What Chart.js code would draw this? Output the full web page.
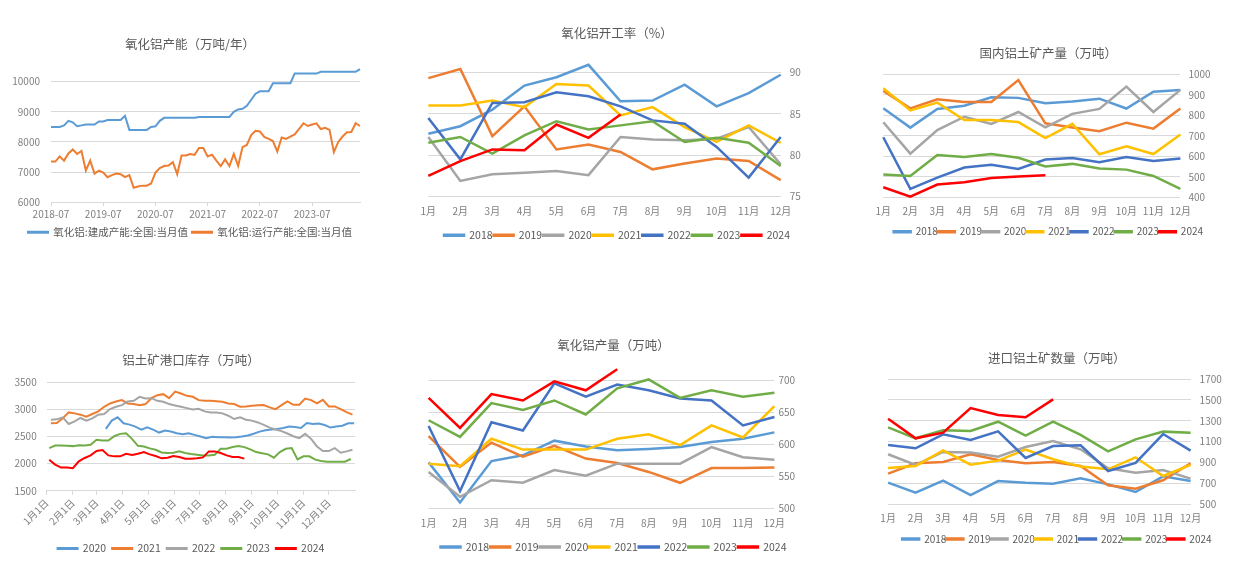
<!DOCTYPE html>
<html>
<head>
<meta charset="utf-8">
<script src="https://cdn.jsdelivr.net/npm/chart.js@4.4.1/dist/chart.umd.min.js"></script>
<style>
  body { margin: 0; background: #fff; width: 1247px; height: 564px; overflow: hidden; position: relative; }
  .box { position: absolute; }
</style>
</head>
<body>
<div class="box" style="left:0;top:20px;width:395px;height:235px"><canvas id="capacityChart"></canvas></div>
<div class="box" style="left:400px;top:0;width:430px;height:255px"><canvas id="rateChart"></canvas></div>
<div class="box" style="left:860px;top:20px;width:387px;height:235px"><canvas id="mineChart"></canvas></div>
<div class="box" style="left:0;top:335px;width:395px;height:232px"><canvas id="portChart"></canvas></div>
<div class="box" style="left:400px;top:325px;width:430px;height:239px"><canvas id="outputChart"></canvas></div>
<div class="box" style="left:860px;top:335px;width:387px;height:229px"><canvas id="importChart"></canvas></div>
<script>
Chart.defaults.font.family = "'Noto Sans CJK SC', 'Noto Sans', sans-serif";
Chart.defaults.color = '#7f7f7f';
Chart.defaults.animation = false;

const months = ['1月', '2月', '3月', '4月', '5月', '6月', '7月', '8月', '9月', '10月', '11月', '12月'];
const years = ['2018', '2019', '2020', '2021', '2022', '2023', '2024'];
const yearColors = ['#5B9BD5', '#ED7D31', '#A5A5A5', '#FFC000', '#4472C4', '#70AD47', '#FF0000'];

// 氧化铝产能, monthly from 2018-07
const capacityBuilt = [8500, 8500, 8500, 8550, 8700, 8650, 8520, 8550, 8580, 8580, 8580, 8680,
    8680, 8730, 8730, 8730, 8730, 8870, 8400, 8400, 8400, 8400, 8400, 8500,
    8520, 8700, 8800, 8800, 8800, 8800, 8800, 8800, 8800, 8800, 8830, 8830,
    8830, 8830, 8830, 8830, 8830, 8830, 9000, 9080, 9100, 9200, 9400, 9600,
    9680, 9680, 9680, 9950, 9950, 9950, 9950, 9950, 10270, 10270, 10270, 10270,
    10270, 10270, 10330, 10330, 10330, 10330, 10330, 10330, 10330, 10330, 10330, 10420];
const capacityRunning = [7350, 7350, 7520, 7380, 7620, 7750, 7600, 7700, 7050, 7380, 6950, 7050,
    6980, 6830, 6900, 6950, 6930, 6830, 6900, 6480, 6520, 6550, 6550, 6620,
    6980, 7130, 7200, 7220, 7330, 6930, 7550, 7550, 7600, 7570, 7800, 7800,
    7520, 7580, 7380, 7200, 7420, 7200, 7600, 7200, 7830, 7900, 8230, 8370,
    8350, 8170, 8100, 8030, 7680, 8150, 8100, 8180, 8250, 8430, 8620, 8530,
    8580, 8620, 8430, 8470, 8400, 7660, 8000, 8180, 8320, 8330, 8620, 8530];
const capacityMonths = [];
for (let i = 0; i < capacityBuilt.length; i++) {
    const m = 6 + i;
    capacityMonths.push(`${2018 + Math.floor(m / 12)}-${String(m % 12 + 1).padStart(2, '0')}`);
}

// 氧化铝开工率 (%)
const rate2018 = [82.6, 83.5, 85.5, 88.4, 89.4, 90.9, 86.5, 86.6, 88.5, 85.9, 87.5, 89.7];
const rate2019 = [89.3, 90.4, 82.3, 85.9, 80.7, 81.3, 80.4, 78.3, 79.0, 79.6, 79.3, 77.0];
const rate2020 = [82.2, 76.9, 77.7, 77.9, 78.1, 77.6, 82.2, 81.9, 81.8, 82.0, 83.4, 78.9];
const rate2021 = [86.0, 86.0, 86.6, 85.8, 88.6, 88.4, 84.8, 85.8, 83.4, 81.6, 83.6, 81.5];
const rate2022 = [84.5, 79.5, 86.3, 86.4, 87.6, 87.1, 85.9, 84.2, 83.8, 81.0, 77.3, 82.2];
const rate2023 = [81.5, 82.2, 80.2, 82.4, 84.1, 83.1, 83.6, 84.1, 81.6, 82.1, 81.5, 78.7];
const rate2024 = [77.5, 79.3, 80.7, 80.6, 83.7, 82.1, 84.9];

// 国内铝土矿产量
const mine2018 = [834, 740, 831, 847, 888, 885, 859, 867, 881, 833, 915, 924];
const mine2019 = [919, 834, 878, 865, 865, 972, 761, 741, 722, 764, 735, 833];
const mine2020 = [766, 613, 728, 793, 758, 816, 741, 807, 831, 940, 816, 924];
const mine2021 = [932, 824, 862, 777, 777, 767, 689, 758, 610, 649, 611, 706];
const mine2022 = [693, 441, 496, 545, 559, 538, 584, 592, 571, 597, 577, 589];
const mine2023 = [511, 504, 606, 597, 611, 593, 550, 563, 540, 535, 504, 441];
const mine2024 = [449, 403, 462, 473, 494, 501, 507];

// 铝土矿港口库存, weekly, x = day of year
const portMonthStarts = [1, 32, 60, 91, 121, 152, 182, 213, 244, 274, 305, 335];
const portMonthLabels = ['1月1日', '2月1日', '3月1日', '4月1日', '5月1日', '6月1日', '7月1日', '8月1日', '9月1日', '10月1日', '11月1日', '12月1日'];
const portYears = ['2020', '2021', '2022', '2023', '2024'];
const portColors = ['#5B9BD5', '#ED7D31', '#A5A5A5', '#70AD47', '#FF0000'];
const portStartDays = [71, 6, 6, 4, 4];
const port2020 = [2640, 2793, 2854, 2744, 2720, 2683, 2628, 2671, 2628, 2573, 2610, 2592, 2561, 2543, 2561, 2531, 2500, 2470, 2494, 2488, 2485, 2482, 2488, 2500, 2518, 2550, 2590, 2615, 2630, 2640, 2659, 2685, 2675, 2659, 2750, 2732, 2740, 2713, 2665, 2685, 2700, 2744, 2744];
const port2021 = [2744, 2750, 2835, 2945, 2927, 2903, 2866, 2915, 2964, 3049, 3110, 3146, 3171, 3110, 3098, 3079, 3098, 3207, 3262, 3281, 3207, 3329, 3293, 3250, 3232, 3171, 3159, 3159, 3150, 3140, 3110, 3098, 3049, 3055, 3067, 3075, 3079, 3037, 3006, 3079, 3146, 3085, 3085, 3201, 3171, 3110, 3177, 3055, 3055, 3006, 2951, 2903];
const port2022 = [2811, 2817, 2854, 2732, 2781, 2842, 2793, 2835, 2903, 2915, 3006, 3049, 3079, 3146, 3159, 3232, 3201, 3207, 3159, 3140, 3098, 3073, 3049, 3024, 3000, 3012, 2964, 2945, 2945, 2927, 2884, 2823, 2854, 2811, 2793, 2760, 2715, 2665, 2630, 2600, 2555, 2506, 2470, 2549, 2457, 2317, 2232, 2232, 2287, 2201, 2226, 2256];
const port2023 = [2287, 2335, 2335, 2329, 2323, 2341, 2335, 2348, 2439, 2427, 2427, 2506, 2549, 2561, 2457, 2329, 2317, 2281, 2256, 2207, 2195, 2201, 2226, 2195, 2177, 2165, 2152, 2152, 2165, 2274, 2274, 2305, 2323, 2305, 2262, 2213, 2190, 2171, 2110, 2213, 2274, 2287, 2079, 2134, 2134, 2073, 2049, 2037, 2037, 2037, 2037, 2085];
const port2024 = [2073, 1982, 1927, 1927, 1915, 2043, 2104, 2152, 2232, 2250, 2152, 2134, 2134, 2183, 2159, 2183, 2213, 2171, 2140, 2098, 2110, 2140, 2122, 2092, 2092, 2100, 2115, 2226, 2226, 2195, 2152, 2122, 2122, 2092];

// 氧化铝产量
const output2018 = [572, 509, 574, 583, 606, 597, 591, 593, 596, 604, 609, 619];
const output2019 = [613, 565, 603, 581, 598, 578, 571, 557, 540, 563, 563, 564];
const output2020 = [557, 518, 544, 540, 560, 551, 570, 570, 570, 596, 580, 576];
const output2021 = [570, 566, 609, 592, 592, 592, 609, 616, 599, 630, 611, 660];
const output2022 = [629, 527, 635, 622, 696, 675, 694, 685, 672, 669, 630, 643];
const output2023 = [638, 612, 665, 654, 669, 647, 688, 702, 673, 685, 675, 681];
const output2024 = [673, 626, 679, 669, 699, 685, 718];

// 进口铝土矿数量
const import2018 = [707, 612, 727, 589, 723, 707, 698, 749, 691, 618, 768, 723];
const import2019 = [794, 893, 905, 979, 924, 893, 905, 867, 682, 650, 730, 893];
const import2020 = [979, 877, 1001, 995, 956, 1049, 1106, 1027, 845, 803, 829, 746];
const import2021 = [848, 867, 1017, 880, 918, 1023, 931, 861, 835, 950, 771, 877];
const import2022 = [1068, 1036, 1170, 1116, 1199, 944, 1058, 1065, 819, 896, 1173, 1014];
const import2023 = [1237, 1132, 1208, 1202, 1291, 1157, 1291, 1164, 1007, 1122, 1196, 1186];
const import2024 = [1320, 1132, 1186, 1422, 1355, 1333, 1505];

const titleColor = '#595959';
const gridColor = '#d9d9d9';
const plain = v => String(v); // no thousands separator on ticks

// line dataset, later years drawn on top
const lineSet = (label, data, color, i, width = 2) => ({
    label, data,
    borderColor: color,
    backgroundColor: color,
    borderWidth: width,
    pointRadius: 0,
    tension: 0,
    clip: false,
    order: -i
});

const legendOpts = (font, box, pad) => ({
    position: 'bottom',
    labels: {
        boxWidth: box, boxHeight: 1, padding: pad, color: titleColor,
        font: { size: font },
        sort: (a, b) => a.datasetIndex - b.datasetIndex
    }
});

// unlabeled right axis, only used to shift the title/legend centre like the original
const spareAxis = (w) => ({
    position: 'right',
    ticks: { display: false },
    grid: { display: false },
    border: { display: false },
    afterFit: s => { s.width = w; }
});

// monthly year-over-year chart with right axis
const monthlyChart = (id, title, series, y, L) => new Chart(document.getElementById(id), {
    type: 'line',
    data: {
        labels: months,
        datasets: series.map((d, i) => lineSet(years[i], d, yearColors[i], i, 2.5))
    },
    options: {
        responsive: true,
        maintainAspectRatio: false,
        layout: { padding: L.pad },
        plugins: {
            title: { display: true, text: title, color: titleColor, font: { size: 12.5, weight: 'normal' }, padding: L.titlePad },
            legend: legendOpts(L.legendFont, L.box, L.legendPad),
            tooltip: { enabled: false }
        },
        scales: {
            x: {
                grid: { display: false, drawTicks: false },
                border: { display: false },
                ticks: { padding: L.tickPad, font: { size: 10 }, maxRotation: 0, autoSkip: false },
                afterFit: s => { s.height = L.xHeight; }
            },
            y: {
                position: 'right',
                min: y.min, max: y.max,
                ticks: { stepSize: y.step, padding: L.yPad, font: { size: 10 }, callback: plain },
                grid: { color: gridColor, drawTicks: false },
                border: { display: false },
                afterFit: s => { s.width = L.yWidth; }
            }
        }
    }
});

// 1. 氧化铝产能
new Chart(document.getElementById('capacityChart'), {
    type: 'line',
    data: {
        labels: capacityMonths,
        datasets: [
            lineSet('氧化铝:建成产能:全国:当月值', capacityBuilt, '#5B9BD5', 0),
            lineSet('氧化铝:运行产能:全国:当月值', capacityRunning, '#ED7D31', 1)
        ]
    },
    options: {
        responsive: true,
        maintainAspectRatio: false,
        layout: { padding: { left: 8, right: 23, top: 0, bottom: 7.5 } },
        plugins: {
            title: { display: true, text: '氧化铝产能（万吨/年）', color: titleColor, font: { size: 12.5, weight: 'normal' }, padding: { top: 17.2, bottom: 29.5 } },
            legend: legendOpts(10.5, 20, 4),
            tooltip: { enabled: false }
        },
        scales: {
            x: {
                ticks: {
                    autoSkip: false, maxRotation: 0, minRotation: 0, padding: 2, font: { size: 10 },
                    callback: (v, i) => i % 12 === 0 ? capacityMonths[i] : ''
                },
                grid: {
                    drawOnChartArea: false, tickLength: 4,
                    color: ctx => ctx.index % 12 === 0 ? gridColor : 'rgba(0,0,0,0)'
                },
                border: { color: gridColor },
                afterFit: s => { s.height = 20.8; }
            },
            y: {
                min: 6000, max: 10000,
                ticks: { stepSize: 1000, padding: 11, font: { size: 10 }, callback: plain },
                grid: { color: gridColor, drawTicks: false },
                border: { display: false },
                afterFit: s => { s.width = 43; }
            },
            spare: spareAxis(12)
        }
    }
});

// 2. 氧化铝开工率
monthlyChart('rateChart', '氧化铝开工率（%）',
    [rate2018, rate2019, rate2020, rate2021, rate2022, rate2023, rate2024],
    { min: 75, max: 90, step: 5 },
    { pad: { left: 28.3, right: 24.3, top: 0, bottom: 4.5 }, titlePad: { top: 25.8, bottom: 31.5 },
      tickPad: 9, xHeight: 32.3, yWidth: 25, yPad: 9, legendFont: 10.5, box: 20, legendPad: 1 });

// 3. 国内铝土矿产量
monthlyChart('mineChart', '国内铝土矿产量（万吨）',
    [mine2018, mine2019, mine2020, mine2021, mine2022, mine2023, mine2024],
    { min: 400, max: 1000, step: 100 },
    { pad: { left: 23.3, right: 33.6, top: 0, bottom: 8.3 }, titlePad: { top: 25.5, bottom: 13.8 },
      tickPad: 8.4, xHeight: 29.4, yWidth: 33, yPad: 8, legendFont: 10, box: 17, legendPad: 0 });

// 4. 铝土矿港口库存
const portSeries = [port2020, port2021, port2022, port2023, port2024];
new Chart(document.getElementById('portChart'), {
    type: 'line',
    data: {
        datasets: portSeries.map((vals, i) => lineSet(portYears[i],
            vals.map((v, k) => ({ x: portStartDays[i] + 7 * k, y: v })), portColors[i], i))
    },
    options: {
        responsive: true,
        maintainAspectRatio: false,
        layout: { padding: { left: 12, right: 25, top: 0, bottom: 3.25 } },
        plugins: {
            title: { display: true, text: '铝土矿港口库存（万吨）', color: titleColor, font: { size: 12.5, weight: 'normal' }, padding: { top: 17.5, bottom: 14.8 } },
            legend: legendOpts(10.5, 20, 6),
            tooltip: { enabled: false }
        },
        scales: {
            x: {
                type: 'linear',
                min: 1, max: 366,
                afterBuildTicks: s => { s.ticks = portMonthStarts.map(v => ({ value: v })); },
                ticks: {
                    autoSkip: false, minRotation: 45, maxRotation: 45, padding: 2, font: { size: 10 },
                    callback: v => portMonthLabels[portMonthStarts.indexOf(v)]
                },
                grid: { drawOnChartArea: false, tickLength: 4, color: gridColor },
                border: { color: gridColor },
                afterFit: s => { s.height = 46.5; }
            },
            y: {
                min: 1500, max: 3500,
                ticks: { stepSize: 500, padding: 10, font: { size: 10 }, callback: plain },
                grid: { color: gridColor, drawTicks: false },
                border: { display: false },
                afterFit: s => { s.width = 34.7; }
            },
            spare: spareAxis(15)
        }
    }
});

// 5. 氧化铝产量
monthlyChart('outputChart', '氧化铝产量（万吨）',
    [output2018, output2019, output2020, output2021, output2022, output2023, output2024],
    { min: 500, max: 700, step: 50 },
    { pad: { left: 28.6, right: 31.6, top: 0, bottom: 1.75 }, titlePad: { top: 12.5, bottom: 28.2 },
      tickPad: 9, xHeight: 32.45, yWidth: 24, yPad: 4, legendFont: 10.5, box: 20, legendPad: 1 });

// 6. 进口铝土矿数量
monthlyChart('importChart', '进口铝土矿数量（万吨）',
    [import2018, import2019, import2020, import2021, import2022, import2023, import2024],
    { min: 500, max: 1700, step: 200 },
    { pad: { left: 28.1, right: 21.4, top: 0, bottom: 10 }, titlePad: { top: 15.5, bottom: 13.5 },
      tickPad: 7.7, xHeight: 29.7, yWidth: 35, yPad: 9, legendFont: 10, box: 17, legendPad: 0 });
</script>
</body>
</html>
